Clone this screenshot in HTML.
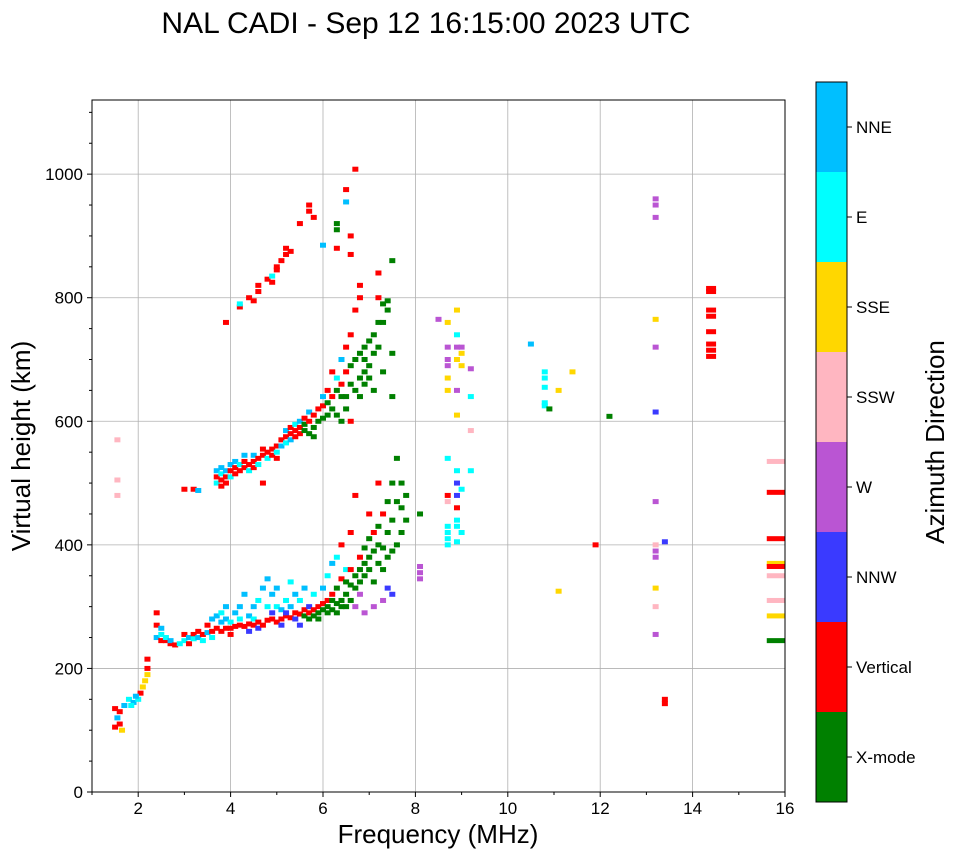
<!DOCTYPE html>
<html><head><meta charset="utf-8"><style>
body{margin:0;background:#fff;font-family:"Liberation Sans",sans-serif}
svg text{font-family:"Liberation Sans",sans-serif;fill:#000}
</style></head><body>
<svg id="chart" width="958" height="857" viewBox="0 0 958 857" xmlns="http://www.w3.org/2000/svg">
<text x="426" y="33" font-size="30" text-anchor="middle">NAL CADI - Sep 12 16:15:00 2023 UTC</text>
<g id="grid"></g>
<g id="marks"></g>
<rect x="92" y="100" width="693" height="692" fill="none" stroke="#000" stroke-width="1"/>
<g id="axes"></g>
<text x="438" y="843" font-size="26" text-anchor="middle">Frequency (MHz)</text>
<text transform="translate(30,446) rotate(-90)" font-size="26" text-anchor="middle">Virtual height (km)</text>
<g id="cbar"></g>
<text transform="translate(944,442) rotate(-90)" font-size="26" text-anchor="middle">Azimuth Direction</text>
</svg>
<script>
const modeNames=["X-mode","Vertical","NNW","W","SSW","SSE","E","NNE"];
const modeColors=["#008000","#ff0000","#3a3aff","#ba55d3","#ffb6c1","#ffd700","#00ffff","#00bfff"];
const xTicks=[2,4,6,8,10,12,14,16];
const yTicks=[0,200,400,600,800,1000];
const lowTrace=[[1.5,135,1],[1.55,120,7],[1.6,110,1],[1.65,100,5],[1.5,105,1],[1.6,130,1],[1.7,140,7],[1.8,150,6],[1.9,145,7],[2.0,150,6],[2.05,160,1],[2.1,170,5],[2.15,180,5],[2.2,200,1],[2.2,215,1],[2.2,190,5],[1.85,140,6],[1.95,155,7],[1.55,570,4],[1.55,505,4],[1.55,480,4]];
const fLayer=[[2.4,290,1],[2.4,270,1],[2.4,250,7],[2.5,255,6],[2.5,245,1],[2.5,265,7],[2.6,245,1],[2.6,250,6],[2.7,240,1],[2.7,245,7],[2.8,238,1],[2.9,240,6],[3.0,245,6],[3.0,255,1],[3.1,250,7],[3.1,240,1],[3.2,255,1],[3.2,248,6],[3.3,250,7],[3.3,260,1],[3.4,255,1],[3.4,245,6],[3.5,258,7],[3.5,270,1],[3.6,260,1],[3.6,250,6],[3.6,280,7],[3.7,265,1],[3.7,285,7],[3.8,260,1],[3.8,275,7],[3.8,290,6],[3.9,265,1],[3.9,280,7],[3.9,300,7],[4.0,265,1],[4.0,275,6],[4.0,255,1],[4.1,268,1],[4.1,290,7],[4.2,270,1],[4.2,300,7],[4.2,280,6],[4.3,268,1],[4.3,320,7],[4.4,272,1],[4.4,285,7],[4.4,260,2],[4.5,270,1],[4.5,300,7],[4.5,280,6],[4.6,275,1],[4.6,310,6],[4.6,265,2],[4.7,270,1],[4.7,330,7],[4.8,278,1],[4.8,300,6],[4.8,345,7],[4.9,280,1],[4.9,290,2],[4.9,320,7],[5.0,275,1],[5.0,300,6],[5.0,330,7],[5.1,280,1],[5.1,295,7],[5.1,270,2],[5.2,285,1],[5.2,310,6],[5.2,290,2],[5.3,282,1],[5.3,300,7],[5.3,340,6],[5.4,290,1],[5.4,280,2],[5.4,320,7],[5.5,288,1],[5.5,310,6],[5.5,270,2],[5.6,295,1],[5.6,285,0],[5.6,330,7],[5.7,290,1],[5.7,280,0],[5.7,300,2],[5.8,295,1],[5.8,285,0],[5.8,320,6],[5.9,300,1],[5.9,290,0],[5.9,280,0],[6.0,295,0],[6.0,305,1],[6.0,330,7],[6.1,300,0],[6.1,290,0],[6.1,310,1],[6.1,350,6],[6.2,295,0],[6.2,310,0],[6.2,320,1],[6.2,370,7],[6.3,305,0],[6.3,290,0],[6.3,330,0],[6.3,380,6],[6.4,310,0],[6.4,300,0],[6.4,345,1],[6.4,400,1],[6.5,320,0],[6.5,300,0],[6.5,340,0],[6.5,360,6],[6.6,310,0],[6.6,335,0],[6.6,360,1],[6.6,420,1],[6.7,330,0],[6.7,350,0],[6.7,300,3],[6.7,480,1],[6.8,340,0],[6.8,360,0],[6.8,380,1],[6.8,320,3],[6.9,350,0],[6.9,370,0],[6.9,395,0],[6.9,290,3],[7.0,360,0],[7.0,380,0],[7.0,410,0],[7.0,450,1],[7.1,340,0],[7.1,390,0],[7.1,420,1],[7.1,300,3],[7.2,370,0],[7.2,400,0],[7.2,430,0],[7.2,500,1],[7.3,360,0],[7.3,395,0],[7.3,450,1],[7.3,310,3],[7.4,380,0],[7.4,420,0],[7.4,470,0],[7.4,330,2],[7.5,390,0],[7.5,440,0],[7.5,500,0],[7.5,320,2],[7.6,400,0],[7.6,470,0],[7.6,540,0],[7.7,420,0],[7.7,460,0],[7.7,500,0],[7.8,440,0],[7.8,480,0],[8.1,345,3],[8.1,365,3],[8.1,450,0]];
const upperTrace=[[3.0,490,1],[3.2,490,1],[3.3,488,7],[3.7,510,1],[3.7,520,7],[3.7,500,6],[3.8,505,1],[3.8,515,6],[3.8,525,7],[3.8,495,1],[3.9,510,1],[3.9,520,7],[3.9,500,1],[4.0,520,1],[4.0,510,6],[4.0,530,7],[4.1,515,1],[4.1,525,1],[4.1,535,7],[4.2,520,1],[4.2,530,6],[4.3,525,1],[4.3,535,1],[4.3,545,7],[4.4,530,1],[4.4,520,6],[4.5,535,1],[4.5,545,7],[4.5,525,1],[4.6,540,1],[4.6,530,6],[4.7,545,1],[4.7,555,1],[4.7,500,1],[4.8,550,1],[4.8,540,6],[4.9,555,1],[4.9,545,1],[5.0,560,1],[5.0,550,6],[5.0,540,1],[5.1,570,1],[5.1,560,7],[5.2,575,1],[5.2,565,6],[5.2,585,7],[5.3,580,1],[5.3,590,1],[5.3,570,7],[5.4,585,1],[5.4,575,1],[5.4,595,6],[5.5,590,1],[5.5,600,7],[5.5,580,1],[5.6,595,0],[5.6,605,1],[5.6,585,0],[5.7,600,1],[5.7,580,0],[5.7,615,7],[5.8,610,1],[5.8,590,0],[5.8,575,0],[5.9,620,1],[5.9,600,0],[6.0,625,1],[6.0,605,0],[6.0,640,7],[6.1,630,0],[6.1,650,1],[6.1,610,0],[6.2,640,1],[6.2,620,0],[6.2,680,1],[6.3,650,0],[6.3,610,0],[6.3,670,6],[6.4,660,1],[6.4,640,0],[6.4,600,0],[6.4,700,7],[6.5,640,0],[6.5,680,1],[6.5,620,0],[6.5,720,1],[6.6,660,0],[6.6,690,0],[6.6,740,1],[6.6,600,1],[6.7,650,0],[6.7,700,0],[6.7,780,1],[6.8,670,0],[6.8,710,0],[6.8,640,0],[6.9,680,0],[6.9,720,0],[6.9,660,0],[6.9,700,0],[7.0,690,0],[7.0,730,0],[7.0,670,0],[7.1,710,0],[7.1,740,0],[7.1,650,0],[7.2,720,0],[7.2,760,0],[7.3,760,0],[7.3,790,0],[7.3,680,0],[7.4,780,0],[7.4,795,0],[7.5,710,0],[7.5,640,0]];
const thirdTrace=[[3.9,760,1],[4.2,785,1],[4.2,790,6],[4.4,800,1],[4.5,795,1],[4.6,810,1],[4.6,820,1],[4.8,830,1],[4.9,825,1],[4.9,835,6],[5.0,845,1],[5.0,850,1],[5.1,860,1],[5.2,870,1],[5.2,880,1],[5.3,875,1],[5.5,920,1],[5.7,940,1],[5.7,950,1],[5.8,930,1],[6.0,885,7],[6.3,920,0],[6.3,910,0],[6.3,880,1],[6.5,975,1],[6.5,955,7],[6.6,900,1],[6.6,870,1],[6.7,1008,1],[6.8,820,1],[6.8,800,1],[7.2,800,1],[7.2,840,1],[7.5,860,0]];
const scatterEchoes=[[8.1,355,3],[8.5,765,3],[8.7,410,6],[8.7,420,6],[8.7,430,6],[8.7,400,6],[8.7,700,3],[8.7,690,3],[8.7,720,3],[8.7,650,5],[8.7,670,5],[8.7,470,4],[8.7,480,1],[8.7,540,6],[8.7,760,5],[8.9,405,6],[8.9,430,6],[8.9,440,6],[8.9,460,1],[8.9,480,2],[8.9,500,2],[8.9,520,6],[8.9,700,5],[8.9,720,3],[8.9,650,3],[8.9,610,5],[8.9,780,5],[8.9,740,6],[9.0,420,6],[9.0,490,6],[9.0,720,3],[9.0,710,5],[9.0,690,5],[9.2,685,3],[9.2,640,6],[9.2,585,4],[9.2,520,6],[10.5,725,7],[10.8,630,6],[10.8,625,6],[10.8,655,6],[10.8,680,6],[10.8,670,6],[10.9,620,0],[11.1,325,5],[11.1,650,5],[11.4,680,5],[11.9,400,1],[12.2,608,0],[13.2,960,3],[13.2,950,3],[13.2,930,3],[13.2,765,5],[13.2,720,3],[13.2,615,2],[13.2,470,3],[13.2,400,4],[13.2,390,3],[13.2,380,3],[13.2,330,5],[13.2,300,4],[13.2,255,3],[13.4,405,2],[13.4,150,1],[13.4,143,1],[14.4,815,1],[14.4,810,1],[14.4,780,1],[14.4,770,1],[14.4,745,1],[14.4,725,1],[14.4,715,1],[14.4,705,1],[15.8,535,4],[15.8,485,1],[15.8,410,1],[15.8,370,5],[15.8,365,1],[15.8,350,4],[15.8,310,4],[15.8,285,5],[15.8,245,0]];

const NS="http://www.w3.org/2000/svg";
const X0=92,X1=785,Y0=792,Y1=100,F0=1,F1=16,H0=0,H1=1120;
function xs(f){return X0+(f-F0)/(F1-F0)*(X1-X0);}
function ys(h){return Y0-(h-H0)/(H1-H0)*(Y0-Y1);}
function mk(tag,attrs,parent){const e=document.createElementNS(NS,tag);for(const k in attrs)e.setAttribute(k,attrs[k]);parent.appendChild(e);return e;}
const grid=document.getElementById('grid'),axes=document.getElementById('axes'),marks=document.getElementById('marks'),cbar=document.getElementById('cbar');
xTicks.forEach(t=>{
  const x=xs(t);
  const g=mk('line',{x1:x,x2:x,y1:Y1,y2:Y0,stroke:'#b0b0b0','stroke-width':0.8},grid);
  
  mk('line',{x1:x,x2:x,y1:Y0,y2:Y0+5,stroke:'#000'},axes);
  const l=mk('text',{x:x,y:Y0+22,'font-size':17,'text-anchor':'middle'},axes);l.textContent=t;
  
  if(t>F0+0.5){const mx=xs(t-1);mk('line',{x1:mx,x2:mx,y1:Y0,y2:Y0+3,stroke:'#000'},axes);}
});
yTicks.forEach(t=>{
  const y=ys(t);
  const g=mk('line',{x1:X0,x2:X1,y1:y,y2:y,stroke:'#b0b0b0','stroke-width':0.8},grid);
  
  mk('line',{x1:X0-5,x2:X0,y1:y,y2:y,stroke:'#000'},axes);
  const l=mk('text',{x:X0-9,y:y+6,'font-size':17,'text-anchor':'end'},axes);l.textContent=t;
  
});
for(let h=50;h<=1100;h+=50){if(h%200===0)continue;const y=ys(h);mk('line',{x1:X0-3,x2:X0,y1:y,y2:y,stroke:'#000'},axes);}
[lowTrace,fLayer,upperTrace,thirdTrace,scatterEchoes].forEach(arr=>arr.forEach(p=>{
  const w=p[0]>=15.5?18:(p[0]>=14?10:6);
  const r=mk('rect',{x:xs(p[0])-w/2,y:ys(p[1])-2.5,width:w,height:5,fill:modeColors[p[2]]},marks);
  
  
}));
const CB_X=816,CB_W=31,CB_TOP=82,CB_BOT=802,segH=(CB_BOT-CB_TOP)/modeNames.length;
modeNames.forEach((n,i)=>{
  const y=CB_BOT-(i+1)*segH;
  const r=mk('rect',{x:CB_X,y:y,width:CB_W,height:segH,fill:modeColors[i]},cbar);
  
  mk('line',{x1:CB_X+CB_W,x2:CB_X+CB_W+5,y1:y+segH/2,y2:y+segH/2,stroke:'#000'},cbar);
  const l=mk('text',{x:CB_X+CB_W+9,y:y+segH/2+6,'font-size':17},cbar);l.textContent=n;
  
});
mk('rect',{x:CB_X,y:CB_TOP,width:CB_W,height:CB_BOT-CB_TOP,fill:'none',stroke:'#000'},cbar);
</script>
</body></html>
